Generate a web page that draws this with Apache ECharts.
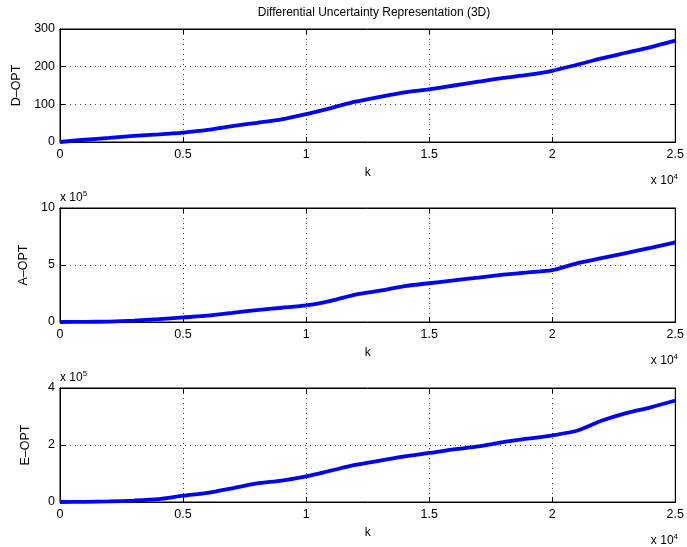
<!DOCTYPE html>
<html>
<head>
<meta charset="utf-8">
<script src="https://cdn.jsdelivr.net/npm/echarts@6/dist/echarts.min.js"></script>
<style>html,body{margin:0;padding:0;background:#fff}#c{width:687px;height:547px}</style>
</head>
<body>
<div id="c"></div>
<script>
// iteration index k
var kValues = [0,1000,2000,3000,4000,5000,6000,7000,8000,9000,10000,11000,12000,13000,14000,15000,16000,17000,18000,19000,20000,21000,22000,23000,24000,25000];
// D-OPT
var dOpt = [0,6,11,16,20,25,32,42,51,60,74,90,107,120,132,140,150,160,170,178,189,205,222,237,252,269];
// A-OPT (x 10^5)
var aOpt = [0,0.01,0.04,0.12,0.25,0.40,0.55,0.80,1.05,1.25,1.45,1.85,2.40,2.75,3.15,3.40,3.65,3.90,4.15,4.35,4.55,5.15,5.60,6.05,6.50,6.98];
// E-OPT (x 10^5)
var eOpt = [0,0.005,0.02,0.05,0.10,0.22,0.32,0.48,0.65,0.75,0.90,1.10,1.30,1.45,1.60,1.72,1.85,1.95,2.10,2.22,2.34,2.50,2.85,3.12,3.32,3.56];
var xTicks = [0,0.5,1,1.5,2,2.5];
var yNames = ['D\u2013OPT','A\u2013OPT','E\u2013OPT'];
var yMax = [300,10,4];
var yInt = [100,5,2];
var title = 'Differential Uncertainty Representation (3D)';

var FONT = 'Liberation Sans, Arial, Helvetica, sans-serif';
var tops = [29,208,388];
var H = [113,114,114];
var series = [dOpt,aOpt,eOpt];

var grids=[],xAxes=[],yAxes=[],ser=[],graphics=[];
var dotted = {show:true,lineStyle:{color:'#444',type:[1,4],width:1}};
for (var i=0;i<3;i++){
  grids.push({left:60,right:9,top:tops[i],height:H[i],show:true,borderColor:'#000',borderWidth:1,backgroundColor:'#fff'});
  xAxes.push({gridIndex:i,type:'value',min:0,max:25000,interval:5000,position:'bottom',
    name:'k',nameLocation:'middle',nameGap:25,nameTextStyle:{fontFamily:FONT,fontSize:12,color:'#000'},
    axisLine:{show:true,onZero:false,lineStyle:{color:'#000',width:1}},
    axisTick:{show:true,inside:true,length:5,lineStyle:{color:'#000'}},
    axisLabel:{color:'#000',fontFamily:FONT,fontSize:12.5,margin:6,formatter:function(v){return String(xTicks[Math.round(v/5000)]);}},
    splitLine:dotted});
  xAxes.push({gridIndex:i,type:'value',min:0,max:25000,interval:5000,position:'top',
    axisLine:{show:true,onZero:false,lineStyle:{color:'#000',width:1}},
    axisTick:{show:true,inside:true,length:5,lineStyle:{color:'#000'}},
    axisLabel:{show:false},splitLine:{show:false}});
  yAxes.push({gridIndex:i,type:'value',min:0,max:yMax[i],interval:yInt[i],position:'left',
    name:yNames[i],nameLocation:'middle',nameGap:28,nameRotate:90,
    nameTextStyle:{fontFamily:FONT,fontSize:12.5,color:'#000'},
    axisLine:{show:true,onZero:false,lineStyle:{color:'#000',width:1}},
    axisTick:{show:true,inside:true,length:5,lineStyle:{color:'#000'}},
    axisLabel:{color:'#000',fontFamily:FONT,fontSize:12.5,margin:5},
    splitLine:dotted});
  yAxes.push({gridIndex:i,type:'value',min:0,max:yMax[i],interval:yInt[i],position:'right',
    axisLine:{show:true,onZero:false,lineStyle:{color:'#000',width:1}},
    axisTick:{show:true,inside:true,length:5,lineStyle:{color:'#000'}},
    axisLabel:{show:false},splitLine:{show:false}});
  var d=[];
  for (var j=0;j<kValues.length;j++) d.push([kValues[j],series[i][j]]);
  ser.push({type:'line',xAxisIndex:2*i,yAxisIndex:2*i,data:d,showSymbol:false,symbol:'none',
    lineStyle:{color:'#0000ff',width:3.8},smooth:0.25,z:5,animation:false});
  graphics.push({type:'text',right:9,top:tops[i]+H[i]+31,
    style:{text:'x 10{s|4}',rich:{s:{fontSize:8,verticalAlign:'top',padding:[0,0,8,0],fontFamily:FONT}},
    fontFamily:FONT,fontSize:12,fill:'#000'}});
  if (i>0) graphics.push({type:'text',left:60,top:tops[i]-18,
    style:{text:'x 10{s|5}',rich:{s:{fontSize:8,verticalAlign:'top',padding:[0,0,8,0],fontFamily:FONT}},
    fontFamily:FONT,fontSize:12,fill:'#000'}});
}
var chart = echarts.init(document.getElementById('c'),null,{renderer:'canvas'});
chart.setOption({
  backgroundColor:'#fff',animation:false,
  title:{text:title,left:369,textAlign:'center',top:2,textStyle:{fontFamily:FONT,fontSize:12,fontWeight:'normal',color:'#000'}},
  grid:grids,xAxis:xAxes,yAxis:yAxes,series:ser,graphic:graphics
});
</script>
</body>
</html>
